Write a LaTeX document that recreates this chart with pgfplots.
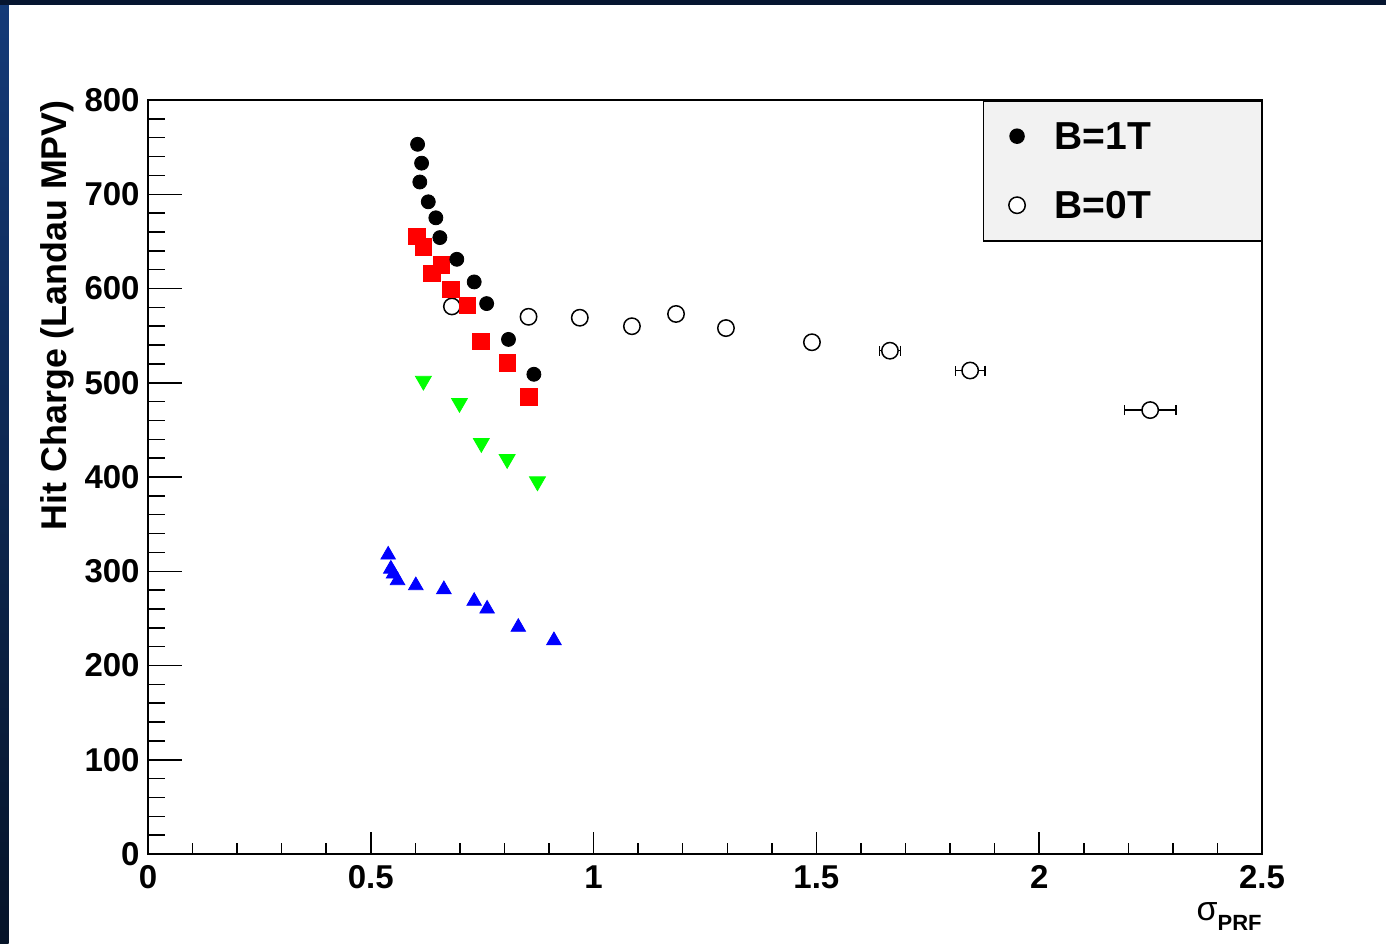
\documentclass[border=0pt]{standalone}
\usepackage{pgfplots}
\pgfplotsset{compat=1.18}
\usepackage{fontspec}
\setmainfont{Liberation Sans}

\definecolor{navytop}{HTML}{061530}
\definecolor{stripA}{HTML}{143A78}
\definecolor{stripB}{HTML}{061429}
\definecolor{legfill}{HTML}{F2F2F2}

\pgfplotstableread{
x y
0.605 753
0.614 733
0.610 713
0.629 692
0.646 675
0.655 654
0.693 631
0.732 607
0.760 584
0.809 546
0.866 509
}\bonet

\pgfplotstableread{
x y
0.603 655
0.618 644
0.637 616
0.659 625
0.680 599
0.717 582
0.747 544
0.806 521
0.855 485
}\redsq

\pgfplotstableread{
x y
0.618 502
0.699 478.5
0.748 436
0.806 419
0.874 395.3
}\greentri

\pgfplotstableread{
x y
0.539 317.4
0.545 302.5
0.551 297.2
0.560 290.2
0.601 284.9
0.664 280.7
0.732 268.3
0.761 260.1
0.831 240.7
0.911 226.6
}\bluetri

\pgfplotstableread{
x y
0.682 581
0.854 570
0.969 569
1.086 560
1.185 573
1.297 558
1.490 543
1.665 534
1.845 513
2.249 471
}\bzerot

\pgfplotstableread{
x y ex
1.665 534 0.024
1.845 513 0.033
2.249 471 0.058
}\bzeroterr

\begin{document}
\begin{tikzpicture}
\path[use as bounding box] (0pt,0pt) rectangle (693pt,471.5pt);
\fill[white] (0pt,0pt) rectangle (693pt,471.5pt);
\shade[top color=stripA, bottom color=stripB] (0pt,0pt) rectangle (4.25pt,471.5pt);
\fill[navytop] (0pt,469pt) rectangle (693pt,471.5pt);
\begin{axis}[
  at={(74pt,44.5pt)}, anchor=south west,
  scale only axis, width=557pt, height=377pt,
  xmin=0, xmax=2.5, ymin=0, ymax=800,
  xtick={0,0.5,1,1.5,2,2.5}, minor x tick num=4,
  ytick={0,100,200,300,400,500,600,700,800}, minor y tick num=4,
  xtick pos=bottom, ytick pos=left, tick align=inside,
  axis line style={line width=0.75pt},
  tick style={line width=0.75pt, black},
  xtick style={/pgfplots/major tick length=11pt, /pgfplots/minor tick length=5.5pt},
  ytick style={/pgfplots/major tick length=17pt, /pgfplots/minor tick length=8.5pt},
  /pgf/number format/assume math mode=true,
  ticklabel style={font=\bfseries\fontsize{16.5}{16.5}\selectfont},
  yticklabel style={anchor=east, inner sep=0pt, xshift=-4pt},
  xticklabel style={anchor=north, inner sep=0pt, yshift=-5.5pt},
  legend image code/.code={\path (-8.5pt,0pt) (8.5pt,0pt); \draw[mark repeat=1,mark phase=1,#1] plot coordinates {(0pt,0pt)};},
  legend style={at={(1,1)}, anchor=north east, draw=black, line width=0.75pt, fill=legfill,
    inner xsep=8pt, inner ysep=11pt, row sep=21pt, column sep=10pt,
    font=\bfseries\fontsize{19.5}{19.5}\selectfont, nodes={inner sep=0pt, text depth=0pt}},
  legend cell align=left,
  reverse legend,
]
% error bars for B=0T (only where they reach beyond the marker)
\addplot[forget plot, draw=none, mark=none,
  error bars/.cd, x dir=both, x explicit, error mark=|,
  error bar style={line width=0.7pt, black},
  error mark options={black, mark size=2.5pt, line width=0.7pt}]
  table[x=x, y=y, x error=ex] {\bzeroterr};
% B=0T open circles
\addplot[only marks, mark=*, mark size=4.1pt, black, line width=0.75pt, mark options={fill=white, draw=black}]
  table[x=x, y=y] {\bzerot};
\addlegendentry{B=0T\hspace*{47pt}}
% green down triangles
\addplot[forget plot, only marks, mark=triangle*, mark size=4.6pt, color={rgb,1:red,0;green,1;blue,0}, mark options={rotate=180}]
  table[x=x, y=y] {\greentri};
% blue up triangles
\addplot[forget plot, only marks, mark=triangle*, mark size=4.2pt, blue]
  table[x=x, y=y] {\bluetri};
% red squares
\addplot[forget plot, only marks, mark=square*, mark size=4.1pt, red]
  table[x=x, y=y] {\redsq};
% B=1T filled circles
\addplot[only marks, mark=*, mark size=3.5pt, black]
  table[x=x, y=y] {\bonet};
\addlegendentry{B=1T\hspace*{47pt}}
\end{axis}
\node[rotate=90, anchor=east, inner sep=0pt, font=\bfseries\fontsize{17.9}{17.9}\selectfont]
  at (28.5pt,421.5pt) {Hit Charge (Landau MPV)};
\node[anchor=base east, inner sep=0pt] at (631pt,11.5pt)
  {{\fontsize{17}{17}\selectfont σ}\raisebox{-5pt}{\bfseries\fontsize{11}{11}\selectfont PRF}};
\end{tikzpicture}
\end{document}
